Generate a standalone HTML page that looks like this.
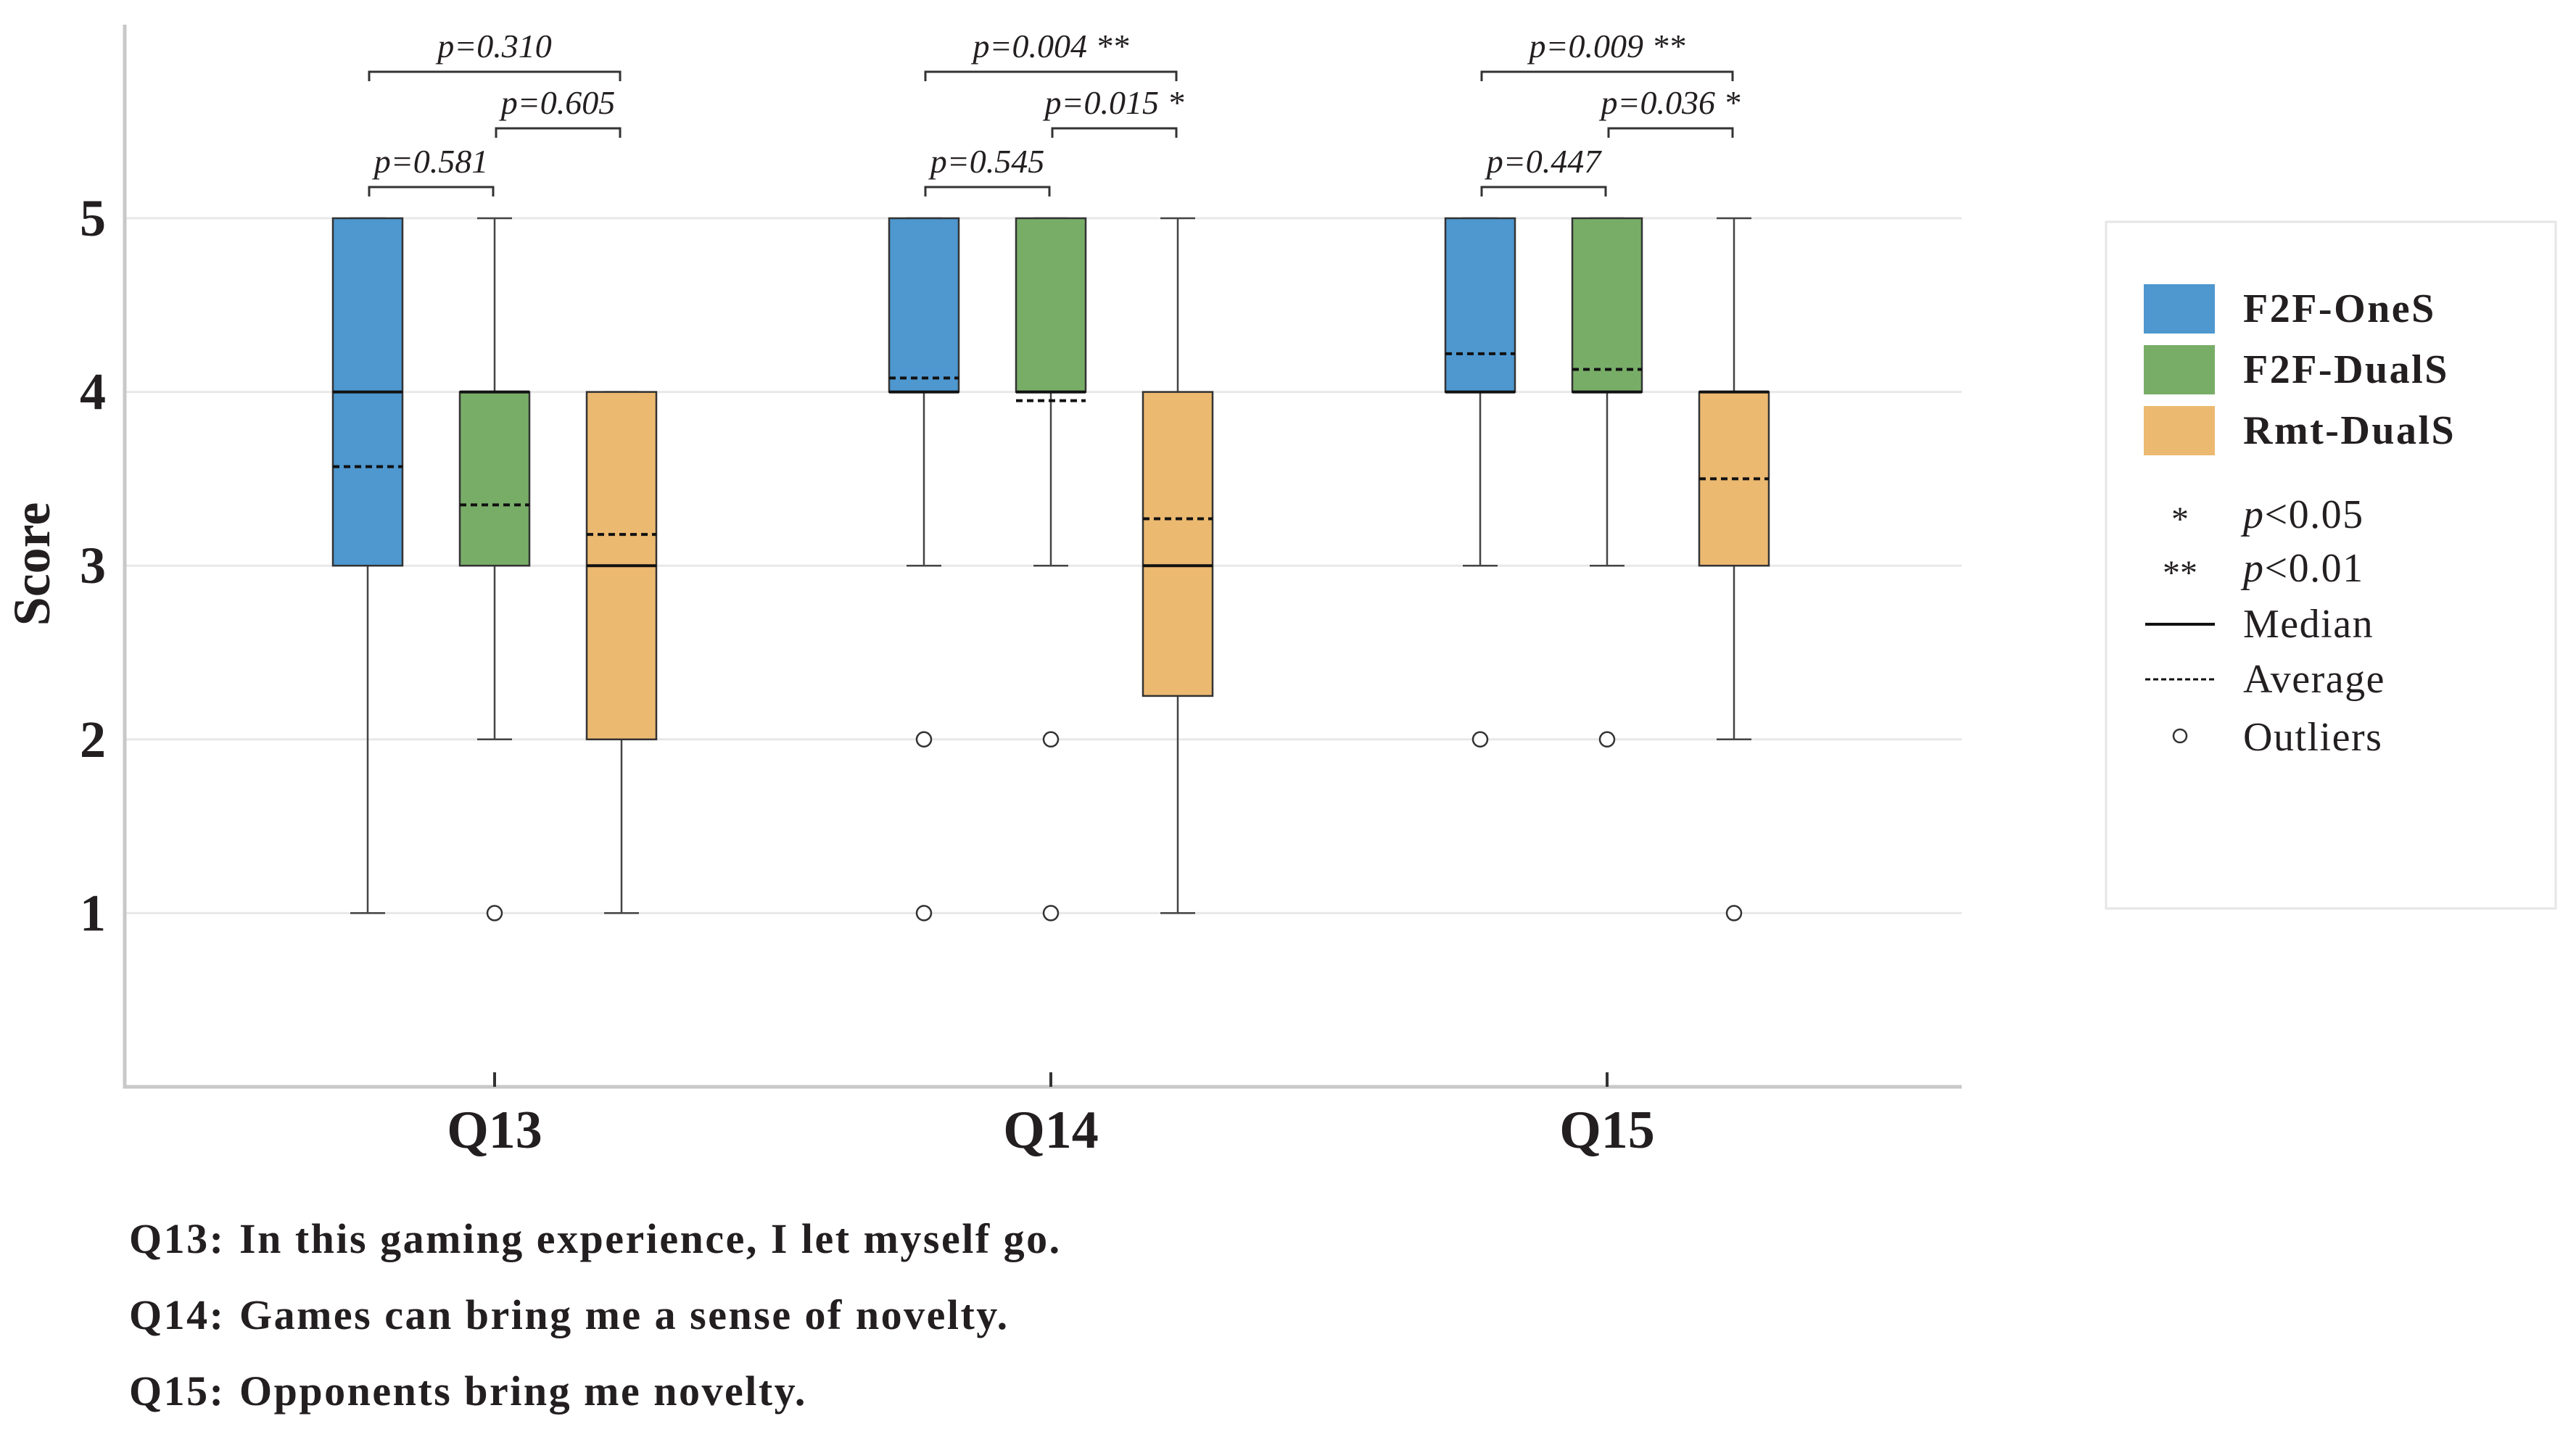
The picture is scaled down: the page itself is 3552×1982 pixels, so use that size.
<!DOCTYPE html>
<html><head><meta charset="utf-8"><style>
html,body{margin:0;padding:0;background:#fff;}
svg{display:block;font-family:"Liberation Serif",serif;}
</style></head><body>
<svg id="chart" width="3552" height="1982" viewBox="0 0 3552 1982" xmlns="http://www.w3.org/2000/svg">
<g id="grid"></g>
<g id="marks"></g>
<g id="axes"></g>
<g id="sig"></g>
<g id="legend">
  <rect x="2904" y="306" width="620" height="947" fill="#fff" stroke="#e6e6e6" stroke-width="3"/>
</g>
<g id="captions" font-weight="bold" font-size="58" letter-spacing="2.5" fill="#231f20">
  <text x="178" y="1728">Q13:</text><text x="330" y="1728">In this gaming experience, I let myself go.</text>
  <text x="178" y="1833">Q14:</text><text x="330" y="1833">Games can bring me a sense of novelty.</text>
  <text x="178" y="1938">Q15:</text><text x="330" y="1938">Opponents bring me novelty.</text>
</g>
</svg>
<script>
const categories = ["Q13","Q14","Q15"];
const seriesNames = ["F2F-OneS","F2F-DualS","Rmt-DualS"];
const seriesColors = ["#4e97cf","#78ad68","#ecb971"];
// per category, per series: [whiskerLow, q1, median, q3, whiskerHigh]
const q13Stats = [[1,3,4,5,5],[2,3,4,4,5],[1,2,3,4,4]];
const q14Stats = [[3,4,4,5,5],[3,4,4,5,5],[1,2.25,3,4,5]];
const q15Stats = [[3,4,4,5,5],[3,4,4,5,5],[2,3,4,4,5]];
const q13Means = [3.57,3.35,3.18];
const q14Means = [4.08,3.95,3.27];
const q15Means = [4.22,4.13,3.5];
const q13Outliers = [[],[1],[]];
const q14Outliers = [[2,1],[2,1],[]];
const q15Outliers = [[2],[2],[1]];
const q13PLabels = ["p=0.581","p=0.605","p=0.310"];
const q14PLabels = ["p=0.545","p=0.015","p=0.004"];
const q15PLabels = ["p=0.447","p=0.036","p=0.009"];
const q13Stars = ["","",""];
const q14Stars = ["","*","**"];
const q15Stars = ["","*","**"];
const yTicks = [1,2,3,4,5];

const NS="http://www.w3.org/2000/svg";
function mk(tag, attrs, parent){const e=document.createElementNS(NS,tag);for(const k in attrs)e.setAttribute(k,attrs[k]);parent.appendChild(e);return e;}
const X0=172, X1=2705, YB=1499, YT=34;
function y(v){return YB - v*239.6;}
function xc(ci,si){return 682 + ci*767 + (si-1)*175;}
const stats=[q13Stats,q14Stats,q15Stats], means=[q13Means,q14Means,q15Means], outs=[q13Outliers,q14Outliers,q15Outliers];
const pl=[q13PLabels,q14PLabels,q15PLabels], st=[q13Stars,q14Stars,q15Stars];
const grid=document.getElementById('grid'), marks=document.getElementById('marks'), axes=document.getElementById('axes'), sig=document.getElementById('sig'), legend=document.getElementById('legend');

yTicks.forEach(t=>{
  const l=mk('line',{x1:X0,x2:X1,y1:y(t),y2:y(t),stroke:'#e8e8e8','stroke-width':3},grid);
  
  
  const tx=mk('text',{x:128,y:y(t)+24,'text-anchor':'middle','font-size':72,'font-weight':'bold',fill:'#231f20'},axes);
  tx.textContent=t;
  
  
});
const ax=mk('path',{d:`M${X0} ${YT} L${X0} ${YB} L${X1} ${YB}`,fill:'none',stroke:'#c8c8c8','stroke-width':5},axes);


const yl=mk('text',{x:0,y:0,transform:'translate(68,778) rotate(-90)','text-anchor':'middle','font-size':72,'font-weight':'bold',fill:'#231f20'},axes);
yl.textContent='Score';



categories.forEach((c,ci)=>{
  const cx=xc(ci,1);
  const tk=mk('line',{x1:cx,x2:cx,y1:YB-20,y2:YB,stroke:'#333','stroke-width':4},axes);
  
  
  const lb=mk('text',{x:cx,y:1583,'text-anchor':'middle','font-size':74,'font-weight':'bold',fill:'#231f20'},axes);
  lb.textContent=c;
  
  
  seriesNames.forEach((s,si)=>{
    const [lo,q1,md,q3,hi]=stats[ci][si]; const x=xc(ci,si), w=96;
    const g=mk('g',{},marks);
    
    
    mk('line',{x1:x,x2:x,y1:y(hi),y2:y(q3),stroke:'#444','stroke-width':2.5},g);
    mk('line',{x1:x,x2:x,y1:y(q1),y2:y(lo),stroke:'#444','stroke-width':2.5},g);
    mk('line',{x1:x-24,x2:x+24,y1:y(hi),y2:y(hi),stroke:'#444','stroke-width':2.5},g);
    mk('line',{x1:x-24,x2:x+24,y1:y(lo),y2:y(lo),stroke:'#444','stroke-width':2.5},g);
    mk('rect',{x:x-w/2,y:y(q3),width:w,height:y(q1)-y(q3),fill:seriesColors[si],stroke:'#333','stroke-width':2.5},g);
    mk('line',{x1:x-w/2,x2:x+w/2,y1:y(md),y2:y(md),stroke:'#111','stroke-width':4},g);
    mk('line',{x1:x-w/2,x2:x+w/2,y1:y(means[ci][si]),y2:y(means[ci][si]),stroke:'#111','stroke-width':4,'stroke-dasharray':'9,6'},g);
    outs[ci][si].forEach(o=>{
      const cc=mk('circle',{cx:x,cy:y(o),r:10,fill:'#fff',stroke:'#333','stroke-width':2.5},g);
      
      
    });
  });
  const br=[[0,1,258],[1,2,177],[0,2,99]];
  br.forEach((b,bi)=>{
    const xa=xc(ci,b[0])+2, xb=xc(ci,b[1])-2, by=b[2];
    const p=mk('path',{d:`M${xa} ${by+13} L${xa} ${by} L${xb} ${by} L${xb} ${by+13}`,fill:'none',stroke:'#333','stroke-width':3},sig);
    
    
    const t=mk('text',{x:(xa+xb)/2,y:by-20,'text-anchor':'middle','font-size':46,'font-style':'italic',fill:'#231f20'},sig);
    t.textContent=pl[ci][bi]+(st[ci][bi]?' '+st[ci][bi]:'');
    
    
  });
});

seriesNames.forEach((s,si)=>{
  const yy=392+si*84;
  const r=mk('rect',{x:2956,y:yy,width:98,height:68,fill:seriesColors[si]},legend);
  
  
  const t=mk('text',{x:3093,y:yy+52,'font-size':56,'font-weight':'bold','letter-spacing':2.5,fill:'#231f20'},legend);
  t.textContent=s;
  
  
});
const extras=[["*","p<0.05",710],["**","p<0.01",784],["median","Median",861],["avg","Average",937],["o","Outliers",1017]];
extras.forEach(e=>{
  const [sym,lab,cy]=e;
  if(sym==="median"){mk('line',{x1:2958,x2:3054,y1:cy,y2:cy,stroke:'#111','stroke-width':4},legend);}
  else if(sym==="avg"){mk('line',{x1:2958,x2:3054,y1:cy,y2:cy,stroke:'#111','stroke-width':3,'stroke-dasharray':'7,4'},legend);}
  else if(sym==="o"){mk('circle',{cx:3006,cy:cy-2,r:9,fill:'#fff',stroke:'#333','stroke-width':2.5},legend);}
  else{const s=mk('text',{x:3006,y:cy+22,'text-anchor':'middle','font-size':48,fill:'#231f20'},legend);s.textContent=sym;}
  const t=mk('text',{x:3093,y:cy+18,'font-size':56,'letter-spacing':1.5,fill:'#231f20'},legend);
  if(lab[0]==='p'){t.innerHTML='<tspan font-style="italic">p</tspan>'+lab.slice(1).replace('<','&lt;');}else t.textContent=lab;
  
  
});
</script>
</body></html>
